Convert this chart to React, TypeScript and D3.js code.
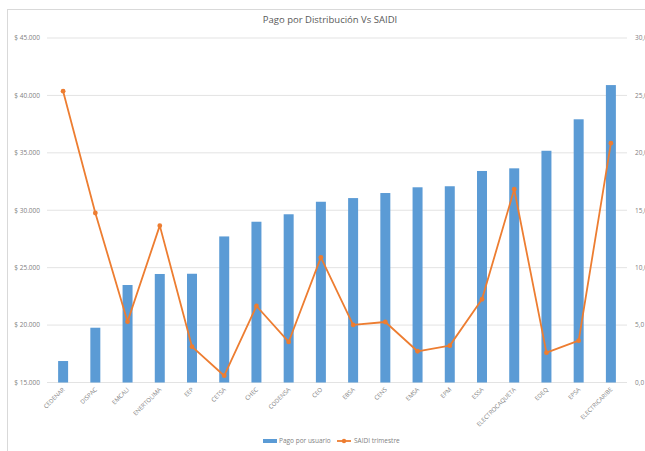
import React from "react";
import * as d3 from "d3";

const categories = ["CEDENAR","DISPAC","EMCALI","ENERTOLIMA","EEP","CETSA","CHEC","CODENSA","CEO","EBSA","CENS","EMSA","EPM","ESSA","ELECTROCAQUETA","EDEQ","EPSA","ELECTRICARIBE"];
const pagoPorUsuario = [16870,19770,23490,24450,24470,27720,29000,29650,30740,31060,31500,32000,32090,33420,33650,35180,37920,40900];
const saidiTrimestre = [25.37,14.76,5.3,13.66,3.12,0.59,6.66,3.53,10.9,5.01,5.27,2.72,3.21,7.25,16.83,2.6,3.64,20.84];
const leftTicks = [15000,20000,25000,30000,35000,40000,45000];
const rightTicks = [0,5,10,15,20,25,30];
const title = "Pago por Distribución Vs SAIDI";
const seriesNames = ["Pago por usuario","SAIDI trimestre"];

const W = 645, H = 451;
const BLUE = "#5B9BD5", ORANGE = "#ED7D31", GRID = "#e3e3e3", TXT = "#7f7f7f";
const FONT = "'Open Sans', 'Liberation Sans', sans-serif";

export default function App() {
  const x = d3.scaleBand<string>().domain(categories).range([47, 627]).paddingInner(0.69).paddingOuter(0.345);
  const yL = d3.scaleLinear().domain([15000, 45000]).range([382.5, 38]);
  const yR = d3.scaleLinear().domain([0, 30]).range([382.5, 38]);
  const cx = (c: string) => (x(c) as number) + x.bandwidth() / 2;
  const line = d3.line<number>().x((_, i) => cx(categories[i])).y(d => yR(d));
  const fmtL = (v: number) => "$ " + d3.format(",")(v).replace(/,/g, ".");
  const fmtR = (v: number) => v.toFixed(1).replace(".", ",");

  return (
    <svg width={W} height={H} style={{ position: "absolute", left: 0, top: 0, background: "#fff" }} fontFamily={FONT}>
      <rect x={7.5} y={9.5} width={660} height={460} fill="#fff" stroke="#d9d9d9" strokeWidth={1} />
      <text x={330} y={23} textAnchor="middle" fontSize={9.5} fill="#595959">{title}</text>
      {leftTicks.map(t => (
        <g key={"g" + t}>
          <line x1={47} x2={627} y1={yL(t)} y2={yL(t)} stroke={GRID} strokeWidth={1} />
          <text x={40} y={yL(t) + 2.3} textAnchor="end" fontSize={6.5} fill={TXT}>{fmtL(t)}</text>
        </g>
      ))}
      {rightTicks.map(t => (
        <text key={"r" + t} x={635} y={yR(t) + 2.3} textAnchor="start" fontSize={6.5} fill={TXT}>{fmtR(t)}</text>
      ))}
      {categories.map((c, i) => (
        <rect key={c} x={x(c)} y={yL(pagoPorUsuario[i])} width={x.bandwidth()} height={yL(15000) - yL(pagoPorUsuario[i])} fill={BLUE} />
      ))}
      <path d={line(saidiTrimestre) || ""} fill="none" stroke={ORANGE} strokeWidth={1.8} strokeLinejoin="round" />
      {saidiTrimestre.map((v, i) => (
        <circle key={"p" + i} cx={cx(categories[i])} cy={yR(v)} r={2.4} fill={ORANGE} />
      ))}
      {categories.map(c => (
        <text key={"l" + c} transform={`translate(${cx(c) + 2},${390}) rotate(-45)`} textAnchor="end" fontSize={6} fill={TXT}>{c}</text>
      ))}
      <g>
        <rect x={263} y={439} width={14} height={4} fill={BLUE} />
        <text x={279} y={443} fontSize={6.5} fill={TXT}>{seriesNames[0]}</text>
        <line x1={337} x2={351} y1={441} y2={441} stroke={ORANGE} strokeWidth={1.8} />
        <circle cx={344} cy={441} r={2.2} fill={ORANGE} />
        <text x={354} y={443} fontSize={6.5} fill={TXT}>{seriesNames[1]}</text>
      </g>
    </svg>
  );
}
